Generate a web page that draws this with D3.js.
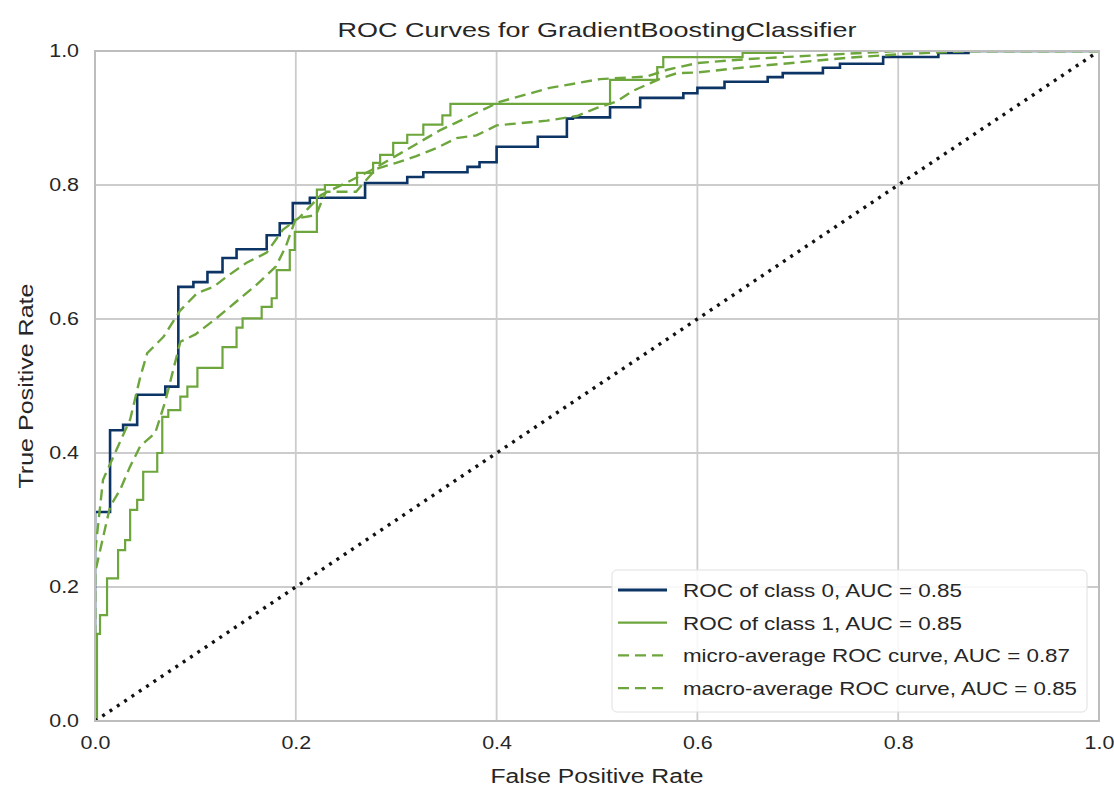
<!DOCTYPE html>
<html><head><meta charset="utf-8">
<script src="https://cdn.jsdelivr.net/npm/d3@7"></script>
<style>
body{margin:0;background:#fff;}
text{font-family:"Liberation Sans",Arial,sans-serif;fill:#262626;}
</style>
</head><body>
<svg id="chart" width="1114" height="789"></svg>
<script>
const chartTitle = "ROC Curves for GradientBoostingClassifier";
const xLabel = "False Positive Rate";
const yLabel = "True Positive Rate";
const xTicks = [0, 0.2, 0.4, 0.6, 0.8, 1.0];
const yTicks = [0, 0.2, 0.4, 0.6, 0.8, 1.0];

const class0Fpr = [0, 0, 0.015, 0.028, 0.042, 0.070, 0.083, 0.098, 0.112, 0.127, 0.141, 0.171, 0.184, 0.197, 0.214, 0.269, 0.311, 0.327, 0.371, 0.383, 0.400, 0.441, 0.470, 0.476, 0.513, 0.543, 0.586, 0.600, 0.627, 0.670, 0.685, 0.725, 0.742, 0.785, 0.840, 0.870, 1.0];
const class0Tpr = [0, 0.312, 0.434, 0.442, 0.487, 0.499, 0.648, 0.655, 0.670, 0.691, 0.704, 0.725, 0.743, 0.773, 0.781, 0.803, 0.812, 0.819, 0.827, 0.834, 0.857, 0.872, 0.899, 0.901, 0.916, 0.930, 0.937, 0.945, 0.954, 0.961, 0.967, 0.975, 0.981, 0.991, 0.997, 1.0, 1.0];

const class1Fpr = [0, 0.002, 0.005, 0.012, 0.023, 0.030, 0.035, 0.042, 0.048, 0.062, 0.067, 0.073, 0.085, 0.092, 0.102, 0.127, 0.141, 0.147, 0.166, 0.176, 0.181, 0.194, 0.199, 0.221, 0.229, 0.261, 0.277, 0.284, 0.297, 0.311, 0.327, 0.346, 0.354, 0.513, 0.560, 0.566, 0.645, 0.685, 1.0];
const class1Tpr = [0, 0.130, 0.158, 0.213, 0.255, 0.270, 0.315, 0.330, 0.372, 0.400, 0.454, 0.464, 0.484, 0.499, 0.527, 0.558, 0.587, 0.601, 0.618, 0.631, 0.673, 0.703, 0.730, 0.793, 0.800, 0.818, 0.833, 0.845, 0.863, 0.875, 0.890, 0.904, 0.921, 0.957, 0.976, 0.991, 0.997, 1.0, 1.0];

const microFpr = [0, 0, 0.008, 0.02, 0.035, 0.045, 0.052, 0.068, 0.085, 0.102, 0.118, 0.131, 0.151, 0.171, 0.187, 0.204, 0.225, 0.25, 0.275, 0.305, 0.344, 0.403, 0.453, 0.503, 0.55, 0.57, 0.6, 0.65, 0.7, 0.75, 0.8, 1.0];
const microTpr = [0, 0.25, 0.36, 0.40, 0.45, 0.513, 0.549, 0.573, 0.613, 0.639, 0.648, 0.663, 0.684, 0.699, 0.733, 0.752, 0.785, 0.803, 0.822, 0.848, 0.882, 0.924, 0.945, 0.958, 0.962, 0.972, 0.982, 0.988, 0.992, 0.996, 1.0, 1.0];

const macroFpr = [0, 0, 0.015, 0.025, 0.035, 0.045, 0.06, 0.07, 0.085, 0.1, 0.12, 0.14, 0.16, 0.18, 0.19, 0.2, 0.22, 0.23, 0.26, 0.28, 0.30, 0.32, 0.34, 0.36, 0.38, 0.40, 0.45, 0.48, 0.50, 0.52, 0.535, 0.565, 0.58, 0.6, 0.65, 0.7, 0.75, 0.8, 0.87, 1.0];
const macroTpr = [0, 0.221, 0.32, 0.345, 0.38, 0.41, 0.43, 0.477, 0.566, 0.577, 0.60, 0.625, 0.65, 0.678, 0.708, 0.75, 0.755, 0.79, 0.79, 0.824, 0.833, 0.843, 0.855, 0.87, 0.874, 0.889, 0.896, 0.903, 0.915, 0.925, 0.94, 0.96, 0.967, 0.968, 0.976, 0.983, 0.99, 0.995, 1.0, 1.0];

const legendLabels = ["ROC of class 0, AUC = 0.85", "ROC of class 1, AUC = 0.85", "micro-average ROC curve, AUC = 0.87", "macro-average ROC curve, AUC = 0.85"];

const navy = "#0c3566", green = "#6da63c";
const stretch = 1.19; // reference glyphs are horizontally widened

function widen(sel, target) {
  sel.each(function () {
    const w = this.getComputedTextLength();
    d3.select(this).attr("textLength", target || w * stretch).attr("lengthAdjust", "spacingAndGlyphs");
  });
}

const svg = d3.select("#chart");
const m = {left: 95, right: 15, top: 51, bottom: 68};
const W = 1114, H = 789;
const x = d3.scaleLinear().domain([0, 1]).range([m.left, W - m.right]);
const y = d3.scaleLinear().domain([0, 1]).range([H - m.bottom, m.top]);

svg.append("defs").append("clipPath").attr("id", "clip")
  .append("rect").attr("x", x(0)).attr("y", y(1)).attr("width", x(1) - x(0)).attr("height", y(0) - y(1));

// grid
const grid = svg.append("g");
grid.selectAll(".gx").data(xTicks).join("line")
  .attr("x1", d => x(d)).attr("x2", d => x(d)).attr("y1", y(0)).attr("y2", y(1))
  .attr("stroke", "#cccccc").attr("stroke-width", 1.8);
grid.selectAll(".gy").data(yTicks).join("line")
  .attr("y1", d => y(d)).attr("y2", d => y(d)).attr("x1", x(0)).attr("x2", x(1))
  .attr("stroke", "#cccccc").attr("stroke-width", 1.8);

// axes tick labels via d3 axes
const xAxis = svg.append("g").attr("transform", `translate(0,${y(0)})`)
  .call(d3.axisBottom(x).tickValues(xTicks).tickFormat(d3.format(".1f")).tickSize(0).tickPadding(15));
const yAxis = svg.append("g").attr("transform", `translate(${x(0)},0)`)
  .call(d3.axisLeft(y).tickValues(yTicks).tickFormat(d3.format(".1f")).tickSize(0).tickPadding(16));
[xAxis, yAxis].forEach(a => {
  a.select(".domain").remove();
  a.selectAll("text").style("font-size", "18px").style("font-family", "'Liberation Sans', Arial, sans-serif").attr("fill", "#262626");
  widen(a.selectAll("text"));
});

const plot = svg.append("g").attr("clip-path", "url(#clip)");

const stepLine = d3.line().x(d => x(d[0])).y(d => y(d[1])).curve(d3.curveStepAfter);
const linLine = d3.line().x(d => x(d[0])).y(d => y(d[1]));

const zip = (a, b) => a.map((v, i) => [v, b[i]]);

plot.append("path").datum(zip(class0Fpr, class0Tpr)).attr("d", stepLine)
  .attr("fill", "none").attr("stroke", navy).attr("stroke-width", 2.6);
plot.append("path").datum(zip(class1Fpr, class1Tpr)).attr("d", stepLine)
  .attr("fill", "none").attr("stroke", green).attr("stroke-width", 2.2);
plot.append("path").datum(zip(microFpr, microTpr)).attr("d", linLine)
  .attr("fill", "none").attr("stroke", green).attr("stroke-width", 2.4).attr("stroke-dasharray", "11,6");
plot.append("path").datum(zip(macroFpr, macroTpr)).attr("d", linLine)
  .attr("fill", "none").attr("stroke", green).attr("stroke-width", 2.4).attr("stroke-dasharray", "11,6");
plot.append("path").datum([[0, 0], [1, 1]]).attr("d", linLine)
  .attr("fill", "none").attr("stroke", "#111").attr("stroke-width", 3.4).attr("stroke-dasharray", "3,5.8");

// frame
svg.append("rect").attr("x", x(0)).attr("y", y(1)).attr("width", x(1) - x(0)).attr("height", y(0) - y(1))
  .attr("fill", "none").attr("stroke", "#bdbdbd").attr("stroke-width", 2);

// title & labels
svg.append("text").attr("x", (x(0) + x(1)) / 2).attr("y", 37).attr("text-anchor", "middle")
  .style("font-size", "21px").text(chartTitle).call(widen, 519);
svg.append("text").attr("x", (x(0) + x(1)) / 2).attr("y", 783).attr("text-anchor", "middle")
  .style("font-size", "20px").text(xLabel).call(widen, 213);
svg.append("text").attr("transform", `translate(33,${(y(0) + y(1)) / 2}) rotate(-90)`).attr("text-anchor", "middle")
  .style("font-size", "20px").text(yLabel).call(widen, 205);

// legend
const lg = svg.append("g").attr("transform", "translate(612,570)");
lg.append("rect").attr("width", 475).attr("height", 142).attr("rx", 5)
  .attr("fill", "#fff").attr("fill-opacity", 0.85).attr("stroke", "#e0e0e0").attr("stroke-width", 1);
const lstyles = [
  {c: navy, w: 3, dash: null},
  {c: green, w: 2.2, dash: null},
  {c: green, w: 2.4, dash: "11,6"},
  {c: green, w: 2.4, dash: "11,6"}
];
const legendWidths = [279, 279, 387, 394];
legendLabels.forEach((t, i) => {
  const yy = 20 + i * 32.7;
  lg.append("line").attr("x1", 6).attr("x2", 55).attr("y1", yy).attr("y2", yy)
    .attr("stroke", lstyles[i].c).attr("stroke-width", lstyles[i].w)
    .attr("stroke-dasharray", lstyles[i].dash);
  lg.append("text").attr("x", 71).attr("y", yy + 7).style("font-size", "19px").text(t).call(widen, legendWidths[i]);
});
</script>
</body></html>
